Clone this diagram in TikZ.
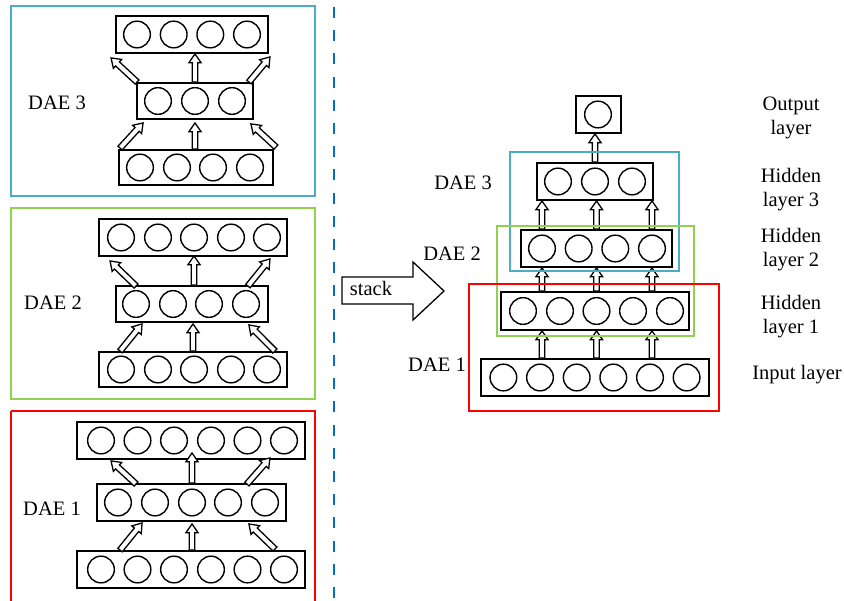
\documentclass[tikz,border=0pt]{standalone}
\usepackage{fontspec}
\setmainfont{Liberation Serif}
\usetikzlibrary{calc,fit}

\definecolor{daeblue}{HTML}{4BACC6}
\definecolor{daegreen}{HTML}{92D050}
\definecolor{daered}{HTML}{FF0000}
\definecolor{sepblue}{HTML}{0070C0}

\tikzset{
  layerbox/.style={draw, line width=1.6pt, inner sep=0pt},
  neuron/.style={draw, circle, line width=1.2pt, inner sep=0pt, minimum size=0.8cm},
  harrow/.style={draw, fill=white, line width=1.1pt, line join=miter},
  frame/.style={line width=1.5pt},
  lbl/.style={inner sep=0pt, font=\fontsize{17.5}{20.4}\selectfont},
  twoline/.style={lbl, align=center, anchor=base, font=\fontsize{17.5}{20.6}\selectfont},
  sepline/.style={draw=sepblue, line width=1.7pt, dash pattern=on 9.4pt off 10.4pt},
}

% a row of neurons inside a rectangular layer box
\newcommand\layer[7]{%
  \node[layerbox, fit={(#2,#3)(#4,#5)}] (#1) {};
  \foreach \cx [count=\i] in {#7} \node[neuron] (#1-\i) at (\cx,#6) {};
}

% hollow block arrow from #1 to #2
\newcommand\hollowarrow[2]{%
  \coordinate (ha-s) at #1;
  \coordinate (ha-e) at #2;
  \coordinate (ha-h) at ($(ha-e)!7.5pt!(ha-s)$);
  \draw[harrow] ($(ha-s)!2.4pt!90:(ha-e)$) -- ($(ha-h)!2.4pt!-90:(ha-s)$)
    -- ($(ha-h)!5.2pt!-90:(ha-s)$) -- (ha-e) -- ($(ha-h)!5.2pt!90:(ha-s)$)
    -- ($(ha-h)!2.4pt!90:(ha-s)$) -- ($(ha-s)!2.4pt!-90:(ha-e)$) -- cycle;
}

\begin{document}
\begin{tikzpicture}[x=0.03cm, y=-0.03cm]
\useasboundingbox (0,0) rectangle (844,601);

% ---------- separate autoencoders ----------
% DAE 3
\layer{T3}{116}{16}{268}{53}{34.5}{137,173.7,210.3,247}
\layer{M3}{137}{83}{253}{119}{101}{158,195,232}
\layer{B3}{119}{150}{273}{185}{167.5}{140,177,213,250}
\hollowarrow{($(M3.north west)+(1,0)$)}{($(T3.south west)+(-4,4)$)}
\hollowarrow{(M3-2 |- M3.north)}{(M3-2 |- T3.south)}
\hollowarrow{($(M3.north east)+(-5,0)$)}{($(T3.south east)+(1,3)$)}
\hollowarrow{($(B3.north west)+(2,-1)$)}{($(M3.south west)+(7,3)$)}
\hollowarrow{(M3-2 |- B3.north)}{($(M3-2 |- M3.south)+(0,3)$)}
\hollowarrow{($(B3.north east)+(2,-2)$)}{($(M3.south east)+(-3,4)$)}
\node[lbl, anchor=base] (lDAE3) at (57,110) {DAE 3};

% DAE 2
\layer{T2}{99}{219}{287}{256}{237.5}{121,158,194,231,267}
\layer{M2}{116}{286}{268}{322}{304}{136,173,209,246}
\layer{B2}{99}{352}{287}{387}{369.5}{121,158,194,231,267}
\hollowarrow{($(M2.north west)+(21,1)$)}{($(T2.south west)+(12,4)$)}
\hollowarrow{(T2-3 |- M2.north)}{($(T2-3 |- T2.south)+(0,-1)$)}
\hollowarrow{($(M2.north east)+(-21,1)$)}{($(T2.south east)+(-18,2)$)}
\hollowarrow{($(B2.north west)+(22,0)$)}{($(M2.south west)+(27,1)$)}
\hollowarrow{(B2.north)}{($(B2.north |- M2.south)+(0,1)$)}
\hollowarrow{($(B2.north east)+(-13,0)$)}{($(M2.south east)+(-20,2)$)}
\node[lbl, anchor=base] (lDAE2) at (53,310) {DAE 2};

% DAE 1
\layer{T1}{77}{422}{305}{459}{440.5}{101,137.5,174,211,247.5,284}
\layer{M1}{97}{484}{286}{521}{502.5}{118,155,192,228,265}
\layer{B1}{77}{551}{305}{588}{569.5}{101,137.5,174,211,247.5,284}
\hollowarrow{($(M1.north west)+(40,1)$)}{($(T1.south west)+(35,1)$)}
\hollowarrow{(M1-3 |- M1.north)}{($(M1-3 |- T1.south)+(0,-7)$)}
\hollowarrow{($(M1.north east)+(-40,1)$)}{($(T1.south east)+(-36,-2)$)}
\hollowarrow{($(B1.north west)+(44,0)$)}{($(M1.south west)+(46,1)$)}
\hollowarrow{(M1-3 |- B1.north)}{($(M1-3 |- M1.south)+(0,2)$)}
\hollowarrow{($(B1.north east)+(-31,-1)$)}{($(M1.south east)+(-38,2)$)}
\node[lbl, anchor=base] (lDAE1) at (52,515) {DAE 1};

% frames of the separate autoencoders
\draw[frame, daeblue] (11,6) rectangle (315,196);
\draw[frame, daegreen] (11,208) rectangle (315,399);
\draw[frame, daered] (11,411) -- (11,605) (315,605) -- (315,411) -- (11,411);

% separator
\draw[sepline] (334,7) -- (334,605);

% ---------- stack arrow ----------
\draw[line width=1.1pt, line join=miter, fill=white]
  (342,277) -- (413,277) -- (413,262) -- (444,291) -- (413,320) -- (413,304) -- (342,304) -- cycle;
\node[lbl, anchor=base] (lstack) at (371,296) {stack};

% ---------- stacked network ----------
\layer{Out}{576}{96}{621}{133}{114.5}{598}
\layer{H3}{537}{163}{653}{200}{181.5}{558,595,632}
\layer{H2}{521}{230}{672}{267}{248.5}{542,578.7,615.3,652}
\layer{H1}{501}{292}{689}{330}{311}{523,560,596.5,633,670}
\layer{In}{481}{359}{709}{396}{377.5}{503.4,540,576.7,613.3,650,686.6}

\hollowarrow{(H3-2 |- H3.north)}{(H3-2 |- Out.south)}
\foreach \c in {H2-1,H1-3,H2-4}{
  \hollowarrow{(\c |- H2.north)}{(\c |- H3.south)}
  \hollowarrow{(\c |- H1.north)}{(\c |- H2.south)}
  \hollowarrow{(\c |- In.north)}{(\c |- H1.south)}
}

\draw[frame, daeblue] (510,152) rectangle (679,271);
\draw[frame, daegreen] (497,226) rectangle (694,336);
\draw[frame, daered] (469,284) rectangle (719,411);

\node[lbl, anchor=base] (rDAE3) at (463,190) {DAE 3};
\node[lbl, anchor=base] (rDAE2) at (452,261) {DAE 2};
\node[lbl, anchor=base] (rDAE1) at (437,372) {DAE 1};

% layer names (anchored at the baseline of the second line)
\node[twoline] (nOut) at (791,135) {Output\\layer};
\node[twoline] (nH3) at (791,207) {Hidden\\layer 3};
\node[twoline] (nH2) at (791,267) {Hidden\\layer 2};
\node[twoline] (nH1) at (791,334) {Hidden\\layer 1};
\node[lbl, anchor=base] (nIn) at (797,380) {Input layer};
\end{tikzpicture}
\end{document}
